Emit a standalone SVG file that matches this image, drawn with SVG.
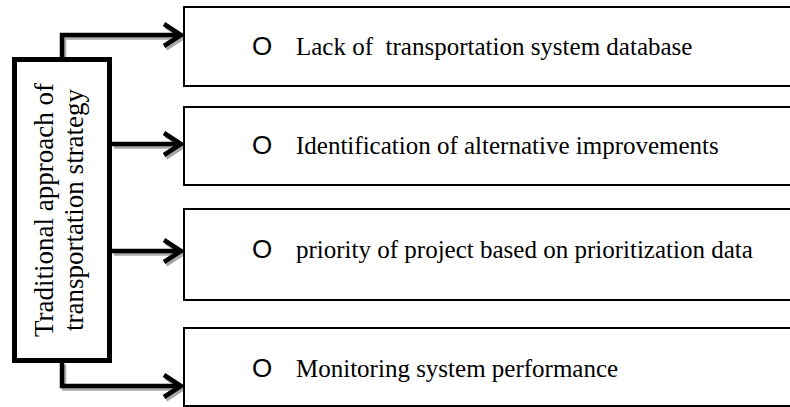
<svg xmlns="http://www.w3.org/2000/svg" width="790" height="407" viewBox="0 0 790 407">
<style>
.box{fill:#fff;stroke:#000;stroke-width:2}
.txt{font-family:"Liberation Serif","Times New Roman",serif;font-size:25px;fill:#000}
.bul{font-family:"Liberation Sans",Arial,sans-serif;font-size:26px;fill:#000}
.vt{font-family:"Liberation Serif","Times New Roman",serif;font-size:27px;fill:#000}
.ln{fill:none;stroke:#000;stroke-width:4.5;stroke-linejoin:miter}
.sh{fill:none;stroke:#a8a8a8;stroke-width:4.5;stroke-linejoin:miter}
</style>
<rect width="790" height="407" fill="#fff"/>
<g id="connectors">
  <g transform="translate(2,2.5)">
    <path class="sh" d="M62,59 V35 H180"/>
    <path class="sh" d="M164,24 L181,35 L164,46"/>
    <path class="sh" d="M112,144 H180"/>
    <path class="sh" d="M164,133 L181,144 L164,155"/>
    <path class="sh" d="M112,251 H180"/>
    <path class="sh" d="M164,240 L181,251 L164,262"/>
    <path class="sh" d="M62,362 V386 H180"/>
    <path class="sh" d="M164,375 L181,386 L164,397"/>
  </g>
  <path class="ln" d="M62,59 V35 H180"/>
  <path class="ln" d="M164,24 L181,35 L164,46"/>
  <path class="ln" d="M112,144 H180"/>
  <path class="ln" d="M164,133 L181,144 L164,155"/>
  <path class="ln" d="M112,251 H180"/>
  <path class="ln" d="M164,240 L181,251 L164,262"/>
  <path class="ln" d="M62,362 V386 H180"/>
  <path class="ln" d="M164,375 L181,386 L164,397"/>
</g>
<g id="source">
  <rect x="16" y="62" width="95" height="301" fill="#a8a8a8"/>
  <rect x="14.5" y="59.5" width="95" height="301" fill="#fff" stroke="#000" stroke-width="5"/>
  <text class="vt" text-anchor="middle" transform="translate(53,210) rotate(-90)">Traditional approach of</text>
  <text class="vt" text-anchor="middle" transform="translate(83,210) rotate(-90)">transportation strategy</text>
</g>
<g id="item1">
  <rect class="box" x="184" y="7" width="620" height="79"/>
  <text class="bul" x="252" y="55">O</text>
  <text class="txt" x="296" y="55" xml:space="preserve">Lack of  transportation system database</text>
</g>
<g id="item2">
  <rect class="box" x="184" y="107" width="620" height="78"/>
  <text class="bul" x="252" y="154">O</text>
  <text class="txt" x="296" y="154">Identification of alternative improvements</text>
</g>
<g id="item3">
  <rect class="box" x="184" y="209" width="620" height="91"/>
  <text class="bul" x="252" y="258">O</text>
  <text class="txt" x="296" y="258">priority of project based on prioritization data</text>
</g>
<g id="item4">
  <rect class="box" x="184" y="328" width="620" height="78"/>
  <text class="bul" x="252" y="377">O</text>
  <text class="txt" x="296" y="377">Monitoring system performance</text>
</g>
</svg>
